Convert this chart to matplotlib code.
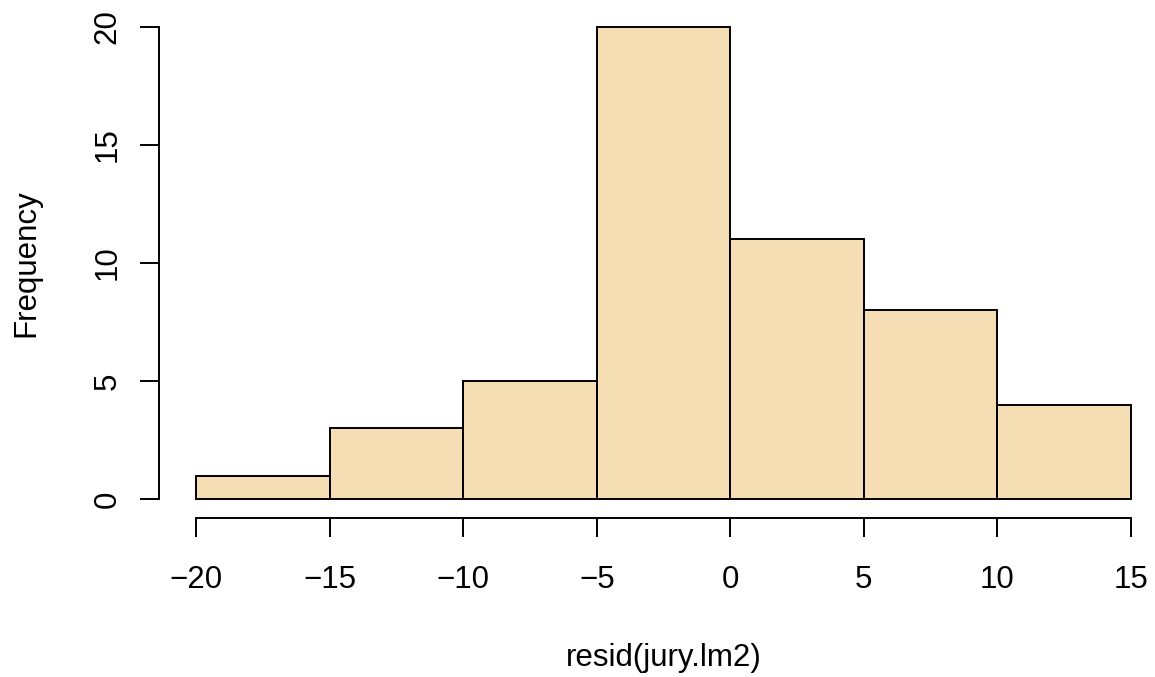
import numpy as np
import matplotlib
matplotlib.use("Agg")
import matplotlib.pyplot as plt

# histogram of residuals, R base-graphics look
breaks = [-20, -15, -10, -5, 0, 5, 10, 15]
counts = [1, 3, 5, 20, 11, 8, 4]
x_ticks = [-20, -15, -10, -5, 0, 5, 10, 15]
y_ticks = [0, 5, 10, 15, 20]
x_label = "resid(jury.lm2)"
y_label = "Frequency"

W, H = 1155, 677
plt.rcParams['font.family'] = ['Liberation Sans', 'DejaVu Sans']
fig = plt.figure(figsize=(W / 100, H / 100), dpi=100)

# plot region in pixels (R extends ranges by 4%)
left, right, top, bottom = 159, 1168, 8, 518
ax = fig.add_axes([left / W, 1 - bottom / H, (right - left) / W, (bottom - top) / H])

lw = 1.4
ax.bar(breaks[:-1], counts, width=np.diff(breaks), align='edge',
       color='#F5DEB3', edgecolor='black', linewidth=lw)

xr = breaks[-1] - breaks[0]
ax.set_xlim(breaks[0] - 0.04 * xr, breaks[-1] + 0.04 * xr)
ax.set_ylim(-0.04 * 20, 20 * 1.04)

for s in ['top', 'right']:
    ax.spines[s].set_visible(False)
ax.spines['left'].set_bounds(0, 20)
ax.spines['bottom'].set_bounds(breaks[0], breaks[-1])
ax.spines['left'].set_linewidth(lw)
ax.spines['bottom'].set_linewidth(lw)

ax.set_xticks(x_ticks)
ax.set_xticklabels([str(v) if v >= 0 else '\u2212' + str(-v) for v in x_ticks])
ax.set_yticks(y_ticks)
ax.set_yticklabels([str(v) for v in y_ticks], rotation=90, va='center')
ax.tick_params(axis='x', length=13.7, width=lw, labelsize=22.5, pad=20)
ax.tick_params(axis='y', length=13.7, width=lw, labelsize=22.5, pad=12.5)

fig.text((left + right) / 2 / W, (H - 666) / H, x_label, ha='center',
         va='baseline', fontsize=22.5)
fig.text(26 / W, 1 - 263 / H, y_label, ha='center', va='center',
         rotation=90, fontsize=22.5)

fig.savefig('out.png', dpi=100)
